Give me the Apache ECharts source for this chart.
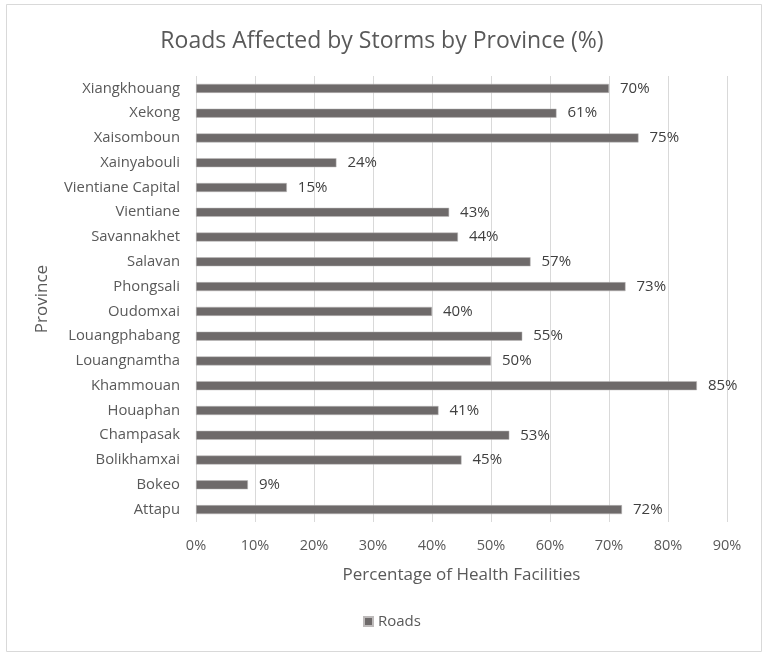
<!DOCTYPE html>
<html>
<head>
<meta charset="utf-8">
<script src="https://cdn.jsdelivr.net/npm/echarts@6/dist/echarts.min.js"></script>
<style>html,body{margin:0;padding:0;background:#fff}#c{width:764px;height:653px}</style>
</head>
<body>
<div id="c"></div>
<script>
const provinces = ["Attapu","Bokeo","Bolikhamxai","Champasak","Houaphan","Khammouan","Louangnamtha","Louangphabang","Oudomxai","Phongsali","Salavan","Savannakhet","Vientiane","Vientiane Capital","Xainyabouli","Xaisomboun","Xekong","Xiangkhouang"];
const roads = [72.2, 8.8, 45.0, 53.1, 41.1, 84.9, 50.0, 55.3, 40.0, 72.8, 56.7, 44.4, 42.9, 15.4, 23.8, 75.0, 61.1, 70.0];
const xTicks = [0,10,20,30,40,50,60,70,80,90];
const FONT = "Open Sans";
const chart = echarts.init(document.getElementById('c'));
chart.setOption({
  backgroundColor:'#fff',
  animation:false,
  textStyle:{fontFamily:FONT},
  title:{text:'Roads Affected by Storms by Province (%)',left:'center',top:25,
    textStyle:{fontFamily:FONT,fontSize:23,fontWeight:'normal',color:'#595959'}},
  graphic:[{type:'rect',shape:{x:6.5,y:4.5,width:755,height:647},style:{fill:'none',stroke:'#d9d9d9',lineWidth:1}}],
  legend:{bottom:19,left:358,itemWidth:9,itemHeight:9,itemGap:5,icon:'rect',
    textStyle:{fontFamily:FONT,fontSize:15,color:'#595959'},data:['Roads']},
  grid:{left:196,right:37,top:76,bottom:131,containLabel:false},
  xAxis:{type:'value',min:0,max:90,interval:10,
    axisLabel:{formatter:v=>v+'%',fontSize:14.5,color:'#595959',margin:16,fontFamily:FONT},
    axisLine:{show:false},axisTick:{show:false},
    splitLine:{show:true,lineStyle:{color:'#d9d9d9',width:1}},
    name:'Percentage of Health Facilities',nameLocation:'middle',nameGap:45,
    nameTextStyle:{fontSize:17,color:'#595959',fontFamily:FONT}},
  yAxis:{type:'category',data:provinces,
    axisLabel:{fontSize:14.8,color:'#595959',margin:16,fontFamily:FONT},
    axisLine:{show:false},axisTick:{show:false},
    name:'Province',nameLocation:'middle',nameGap:145,nameRotate:90,
    nameTextStyle:{fontSize:17,color:'#595959',fontFamily:FONT}},
  series:[{name:'Roads',type:'bar',data:roads,barWidth:9,
    itemStyle:{color:'#6e6a6a',borderColor:'#bdbaba',borderWidth:0.5},
    label:{show:true,position:'right',distance:11,formatter:p=>Math.round(p.value)+'%',
      fontSize:15,color:'#404040',fontFamily:FONT}}]
});
</script>
</body>
</html>
